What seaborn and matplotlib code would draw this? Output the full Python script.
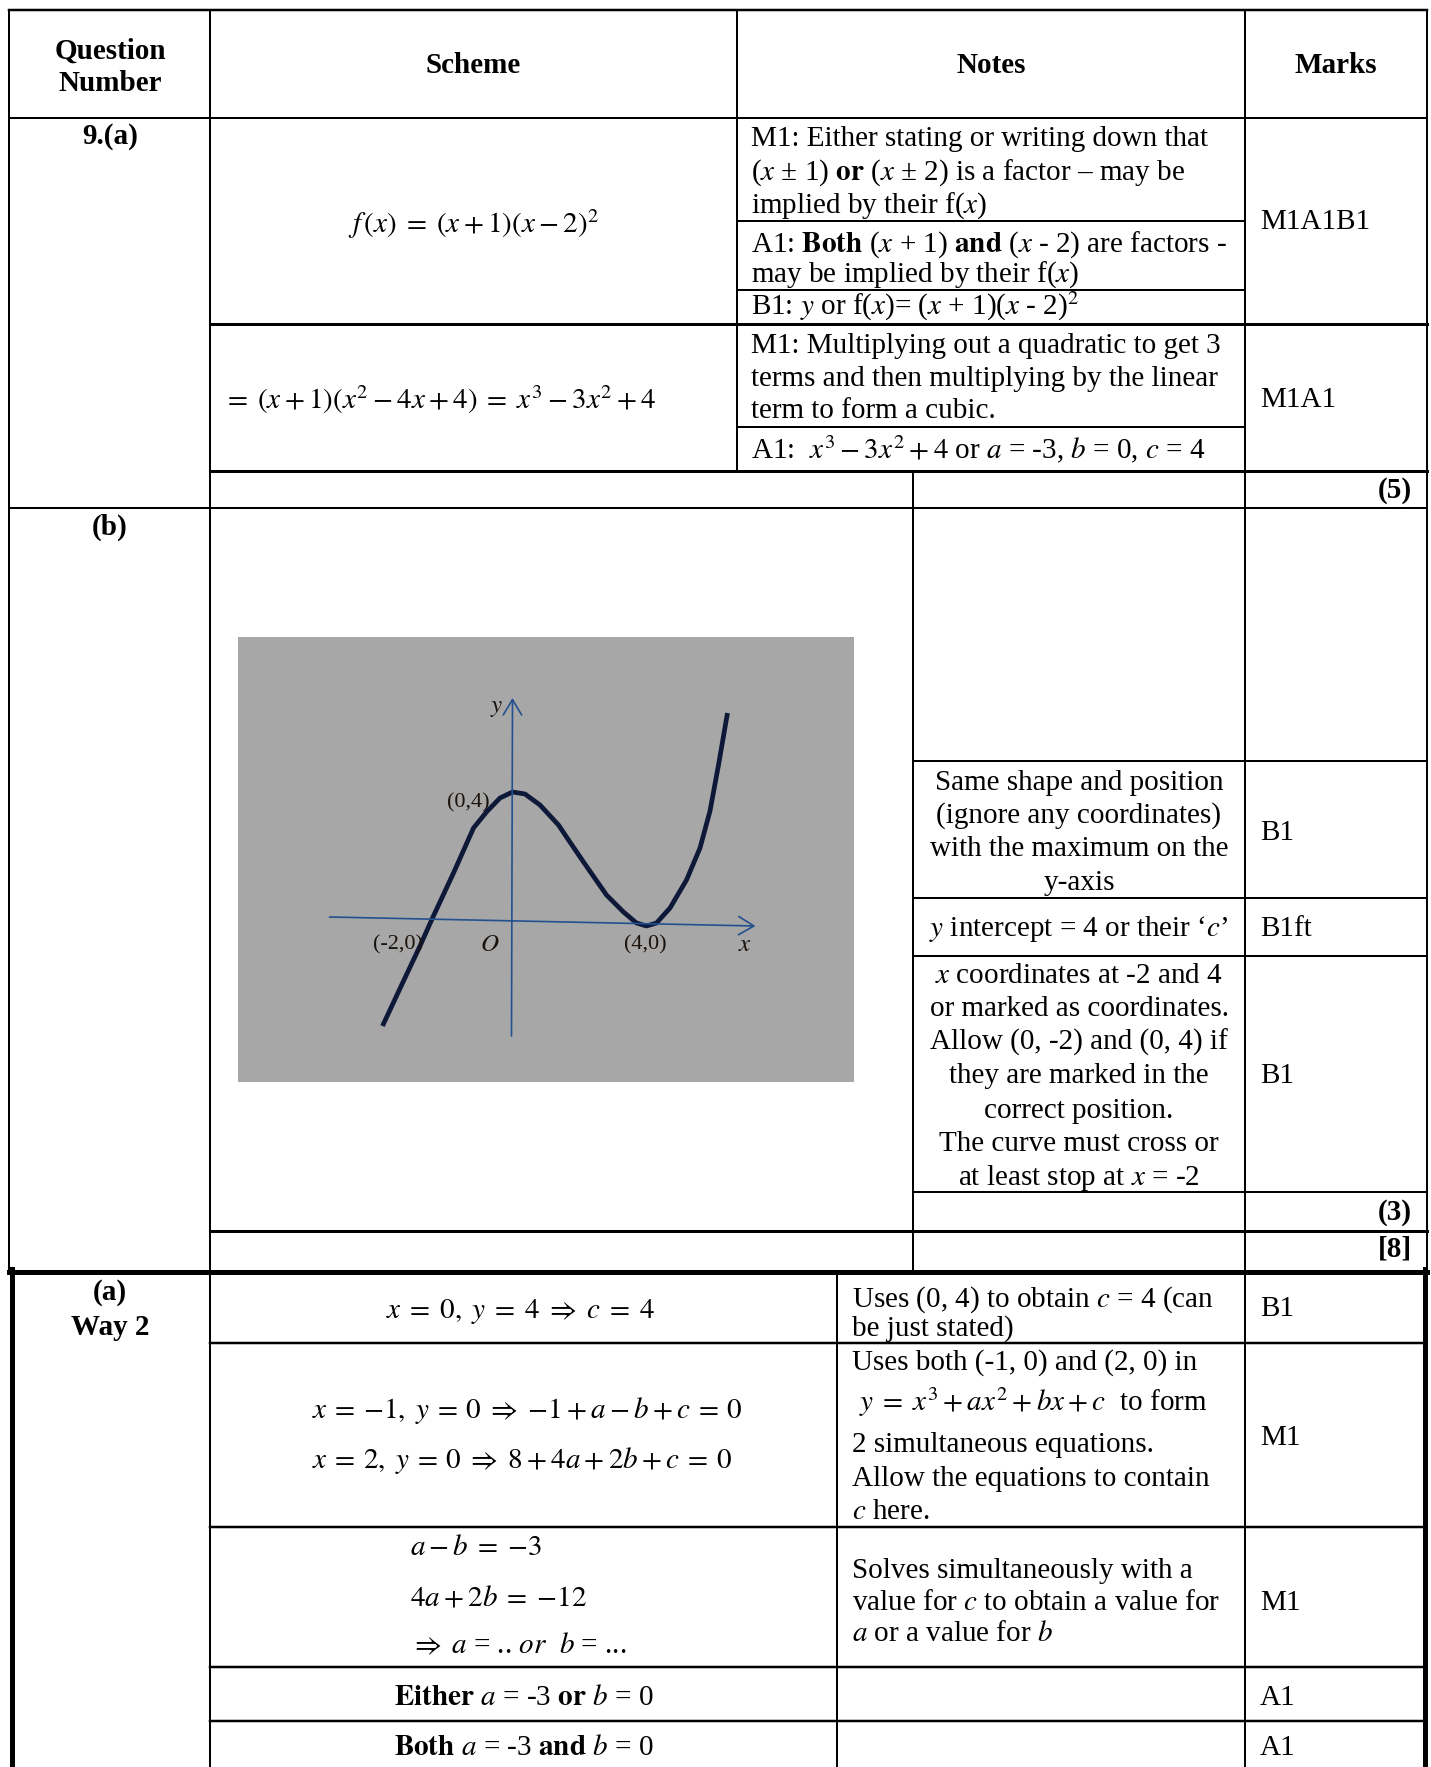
import matplotlib
matplotlib.use("Agg")
import matplotlib.pyplot as plt
import seaborn as sns

sns.set_theme(style="white")
plt.rcParams["font.family"] = ["Liberation Serif", "DejaVu Serif"]
plt.rcParams["mathtext.fontset"] = "stix"

# ---------------- content ----------------
header_labels = ["Question", "Number", "Scheme", "Notes", "Marks"]
part_labels = ["9.(a)", "(b)", "(a)", "Way 2"]

scheme_a = [r"$f\,(x) \;=\; (x+1)(x-2)^2$",
            r"$=\; (x+1)(x^2-4x+4) \;=\; x^3-3x^2+4$"]
notes_a = [
    "M1: Either stating or writing down that",
    r"($x$ ± 1) $\mathbf{or}$ ($x$ ± 2) is a factor – may be",
    r"implied by their f($x$)",
    r"A1: $\mathbf{Both}$ ($x$ + 1) $\mathbf{and}$ ($x$ - 2) are factors -",
    r"may be implied by their f($x$)",
    r"B1: $y$ or f($x$)= ($x$ + 1)($x$ - 2)$^2$",
    "M1: Multiplying out a quadratic to get 3",
    "terms and then multiplying by the linear",
    "term to form a cubic.",
    r"A1:  $x^3-3x^2+4$ or $a$ = -3, $b$ = 0, $c$ = 4",
]
marks_a = ["M1A1B1", "M1A1"]

notes_b = [
    "Same shape and position",
    "(ignore any coordinates)",
    "with the maximum on the",
    "y-axis",
    r"$y$ intercept = 4 or their ‘$c$’",
    r"$x$ coordinates at -2 and 4",
    "or marked as coordinates.",
    "Allow (0, -2) and (0, 4) if",
    "they are marked in the",
    "correct position.",
    "The curve must cross or",
    r"at least stop at $x$ = -2",
]
marks_b = ["B1", "B1ft", "B1"]
totals = ["(5)", "(3)", "[8]"]

scheme_w2 = [
    r"$x \;=\; 0,\; y \;=\; 4 \;\Rightarrow\; c \;=\; 4$",
    r"$x \:=\: {-1},\; y \:=\: 0 \;\Rightarrow\; {-1} + a - b + c \:=\: 0$",
    r"$x \:=\: 2,\; y \:=\: 0 \;\Rightarrow\; 8 + 4a + 2b + c \:=\: 0$",
    r"$a - b \;=\; {-3}$",
    r"$4a + 2b \;=\; {-12}$",
    r"$\Rightarrow\; a$ = .. $or$  $b$ = ...",
    r"$\mathbf{Either}$ $a$ = -3 $\mathbf{or}$ $b$ = 0",
    r"$\mathbf{Both}$ $a$ = -3 $\mathbf{and}$ $b$ = 0",
]
notes_w2 = [
    r"Uses (0, 4) to obtain $c$ = 4 (can",
    "be just stated)",
    "Uses both (-1, 0) and (2, 0) in",
    r" $y \;=\; x^3 + ax^2 + bx + c$  to form",
    "2 simultaneous equations.",
    "Allow the equations to contain",
    r"$c$ here.",
    "Solves simultaneously with a",
    r"value for $c$ to obtain a value for",
    r"$a$ or a value for $b$",
]
marks_w2 = ["B1", "M1", "M1", "A1", "A1"]

# hand-drawn cubic sketch, offsets from the sketch origin
curve_x = [-130, -109, -92.5, -80, -59, -39, -26, -12.5, 0, 12.5, 27.5, 46, 54,
           71, 94, 111, 124, 134, 144, 157.5, 174, 187.5, 197.5, 206, 215]
curve_y = [-108, -63, -28, 0, 45, 90, 106, 120, 126, 124, 113, 93, 81,
           56, 23, 6, -5, -8, -5, 10, 38, 70, 107, 153, 205]
sketch_xaxis = ([-183, 243], [1, -8])
sketch_yaxis = ([-1, 0], [-118, 220])
sketch_labels = ["(0,4)", "(-2,0)", "(4,0)"]
sketch_axis_names = ["$y$", "$O$", "$x$"]

# ---------------- figure ----------------
W, H = 1431, 1767
fig = plt.figure(figsize=(W / 100, H / 100), dpi=100)
ax = fig.add_axes([0, 0, 1, 1])
ax.set_xlim(0, W)
ax.set_ylim(H, 0)
ax.axis("off")

PX = 0.72
FS = 21


def hl(y, x0, x1, w=2.0):
    ax.plot([x0, x1], [y, y], color="black", lw=w * PX, solid_capstyle="projecting")


def vl(x, y0, y1, w=2.0):
    ax.plot([x, x], [y0, y1], color="black", lw=w * PX, solid_capstyle="projecting")


def put(x, y, s, ha="left", weight="normal", size=FS):
    ax.text(x, y, s, ha=ha, va="baseline", fontsize=size, fontweight=weight,
            color="black")


# grid lines
hl(10, 9, 1427, 2.5)
hl(118, 9, 1427)
hl(221, 737, 1245)
hl(290, 737, 1245)
hl(324, 210, 1427, 3)
hl(427, 737, 1245)
hl(471, 210, 1427, 3)
hl(508, 9, 1427)
for y in (761, 898, 956, 1192):
    hl(y, 913, 1427)
hl(1231, 210, 1427, 3)
for y in (1343, 1527, 1667, 1721):
    hl(y, 210, 1425, 2.5)

vl(9, 10, 1269)
vl(210, 10, H)
vl(737, 10, 471)
vl(913, 471, 1269)
vl(837, 1271, H)
vl(1245, 10, H)
vl(1427, 10, 1269)

# thick frame around the second method
hl(1271.5, 9, 1427, 5)
vl(11.5, 1269, H, 5)
vl(1424.5, 1269, H, 5)

# header
put(110, 59, header_labels[0], "center", "bold")
put(110, 91, header_labels[1], "center", "bold")
put(473, 73, header_labels[2], "center", "bold")
put(991, 73, header_labels[3], "center", "bold")
put(1336, 73, header_labels[4], "center", "bold")

# part (a)
put(110, 144, part_labels[0], "center", "bold")
put(473, 233, scheme_a[0], "center")
put(223, 409, scheme_a[1], "left")
for s, y in zip(notes_a, [146, 180, 213, 252, 282, 315, 353, 386, 418, 458]):
    put(751, y, s)
put(1260, 229, marks_a[0])
put(1260, 407, marks_a[1])
put(1412, 498, totals[0], "right", "bold")

# part (b)
put(110, 535, part_labels[1], "center", "bold")
for s, y in zip(notes_b, [790, 823, 856, 890, 936, 983, 1016, 1050, 1083,
                          1118, 1151, 1185]):
    put(1079, y, s, "center")
for s, y in zip(marks_b, [840, 936, 1083]):
    put(1260, y, s)
put(1412, 1220, totals[1], "right", "bold")
put(1412, 1256, totals[2], "right", "bold")

# way 2
put(110, 1300, part_labels[2], "center", "bold")
put(110, 1335, part_labels[3], "center", "bold")
put(520, 1318, scheme_w2[0], "center")
put(312, 1418, scheme_w2[1])
put(312, 1468, scheme_w2[2])
put(410, 1555, scheme_w2[3])
put(410, 1605, scheme_w2[4])
put(410, 1653, scheme_w2[5])
put(524, 1705, scheme_w2[6], "center")
put(394, 1755, scheme_w2[7])
for s, y in zip(notes_w2, [1307, 1336, 1370, 1411, 1452, 1486, 1519, 1578,
                           1610, 1641]):
    put(852, y, s)
for s, y in zip(marks_w2, [1316, 1445, 1610, 1705, 1755]):
    put(1260, y, s)

# ---------------- sketch of the cubic ----------------
sk = fig.add_axes([238 / W, 1 - 1082 / H, 616 / W, 445 / H])
sk.set_facecolor("#a7a7a7")
sk.set_xlim(-274.5, 341.5)
sk.set_ylim(-164, 281)
sk.set_xticks([])
sk.set_yticks([])
for sp in sk.spines.values():
    sp.set_visible(False)

axis_col = "#23508f"
for (xs, ys) in (sketch_xaxis, sketch_yaxis):
    sk.annotate("", xy=(xs[1], ys[1]), xytext=(xs[0], ys[0]),
                arrowprops=dict(arrowstyle="->,head_length=0.5,head_width=0.3",
                                color=axis_col, lw=1.2,
                                mutation_scale=22, shrinkA=0, shrinkB=0))

sns.lineplot(x=curve_x, y=curve_y, sort=False, ax=sk, color="#0e1838",
             lw=3.4, solid_capstyle="butt", solid_joinstyle="round")

lab_col = "#1a120c"
for s, (x, y) in zip(sketch_labels, [(-44, 115), (-115, -27), (132.5, -27)]):
    sk.text(x, y, s, ha="center", va="center", fontsize=16, color=lab_col)
for s, (x, y) in zip(sketch_axis_names, [(-16, 210), (-22.5, -27), (232.5, -27)]):
    sk.text(x, y, s, ha="center", va="center", fontsize=18, color=lab_col)

fig.savefig("out.png", dpi=100)
